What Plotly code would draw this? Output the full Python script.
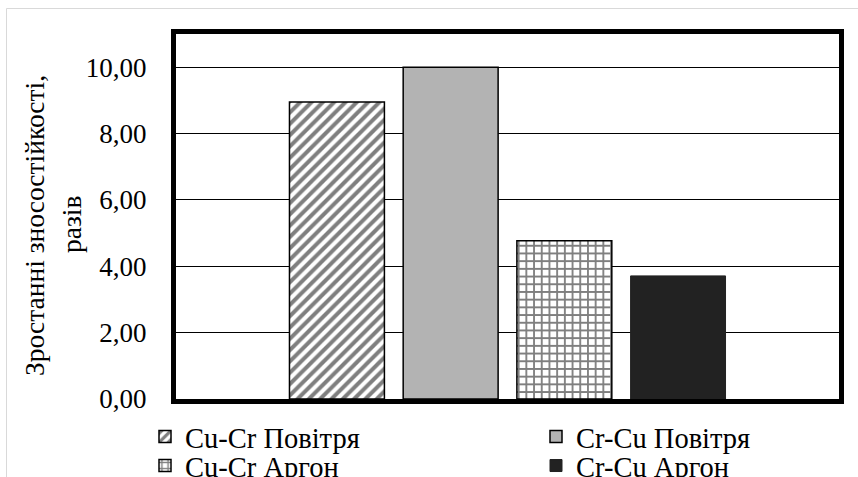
import plotly.graph_objects as go

categories = ["1"]
series_names = ["Cu-Cr Повітря", "Cr-Cu Повітря", "Cu-Cr Аргон", "Cr-Cu Аргон"]
values = [8.95, 10.0, 4.77, 3.71]
y_ticks = [0, 2, 4, 6, 8, 10]
y_tick_labels = ["0,00", "2,00", "4,00", "6,00", "8,00", "10,00"]
y_title_lines = ["Зростанні зносостійкості,", "разів"]

FONT = "Liberation Serif"
W, H = 858, 477
# plot area edges in screen pixels
L, R, T, B = 176, 839, 34, 399


def px_x(p):
    return (p - L) / (R - L)


def px_y(p):
    return (B - p) / (B - T)


markers = [
    dict(color="white", pattern=dict(shape="/", fgcolor="black", bgcolor="white", size=8, solidity=0.5),
         line=dict(color="black", width=1.5)),
    dict(color="#b3b3b3", line=dict(color="black", width=1.5)),
    dict(color="white", pattern=dict(shape="+", fgcolor="black", bgcolor="white", size=7.7, solidity=0.42),
         line=dict(color="black", width=1.5)),
    dict(color="#222222", line=dict(color="#222222", width=1)),
]
legend_ids = ["legend", "legend2", "legend3", "legend4"]

fig = go.Figure()
for name, v, m, lg in zip(series_names, values, markers, legend_ids):
    fig.add_trace(go.Bar(x=categories, y=[v], name=name, marker=m, legend=lg))

leg_pos = [(145, 437), (536, 437), (145, 466), (536, 466)]
leg_layout = {}
for lg, (lx, ly) in zip(legend_ids, leg_pos):
    leg_layout[lg] = dict(
        x=px_x(lx), y=px_y(ly), xanchor="left", yanchor="middle",
        font=dict(family=FONT, size=28.5, color="black"),
        bgcolor="rgba(0,0,0,0)", borderwidth=0,
    )

fig.update_layout(
    width=W, height=H,
    margin=dict(l=L, r=W - R, t=T, b=H - B, pad=0, autoexpand=False),
    paper_bgcolor="white", plot_bgcolor="white",
    barmode="group", bargap=0.314, bargroupgap=0.165,
    showlegend=True,
    font=dict(family=FONT, color="black"),
    **leg_layout,
)
fig.update_xaxes(
    showticklabels=False, ticks="", showgrid=False, zeroline=False,
    showline=True, linewidth=5, linecolor="black", mirror=True,
)
fig.update_yaxes(
    range=[0, 11], tickvals=y_ticks, ticktext=y_tick_labels,
    tickfont=dict(family=FONT, size=27, color="black"),
    ticks="", ticklabelstandoff=19,
    showgrid=True, gridcolor="black", gridwidth=1.3, zeroline=False,
    showline=True, linewidth=5, linecolor="black", mirror=True,
)

# two-line rotated axis title
fig.add_annotation(text=y_title_lines[0], xref="paper", yref="paper", x=px_x(34), y=px_y(226),
                   xanchor="center", yanchor="middle", textangle=-90, showarrow=False,
                   font=dict(family=FONT, size=27.5, color="black"))
fig.add_annotation(text=y_title_lines[1], xref="paper", yref="paper", x=px_x(72), y=px_y(225),
                   xanchor="center", yanchor="middle", textangle=-90, showarrow=False,
                   font=dict(family=FONT, size=27.5, color="black"))

# outer light border of chart area
fig.add_shape(type="rect", xref="paper", yref="paper",
              x0=px_x(6.5), x1=px_x(880), y0=px_y(8.5), y1=px_y(500),
              line=dict(color="#d9d9d9", width=1), fillcolor="rgba(0,0,0,0)", layer="below")

fig.write_html("out.html", config={"displayModeBar": False},
               post_script="document.body.style.margin='0';")
